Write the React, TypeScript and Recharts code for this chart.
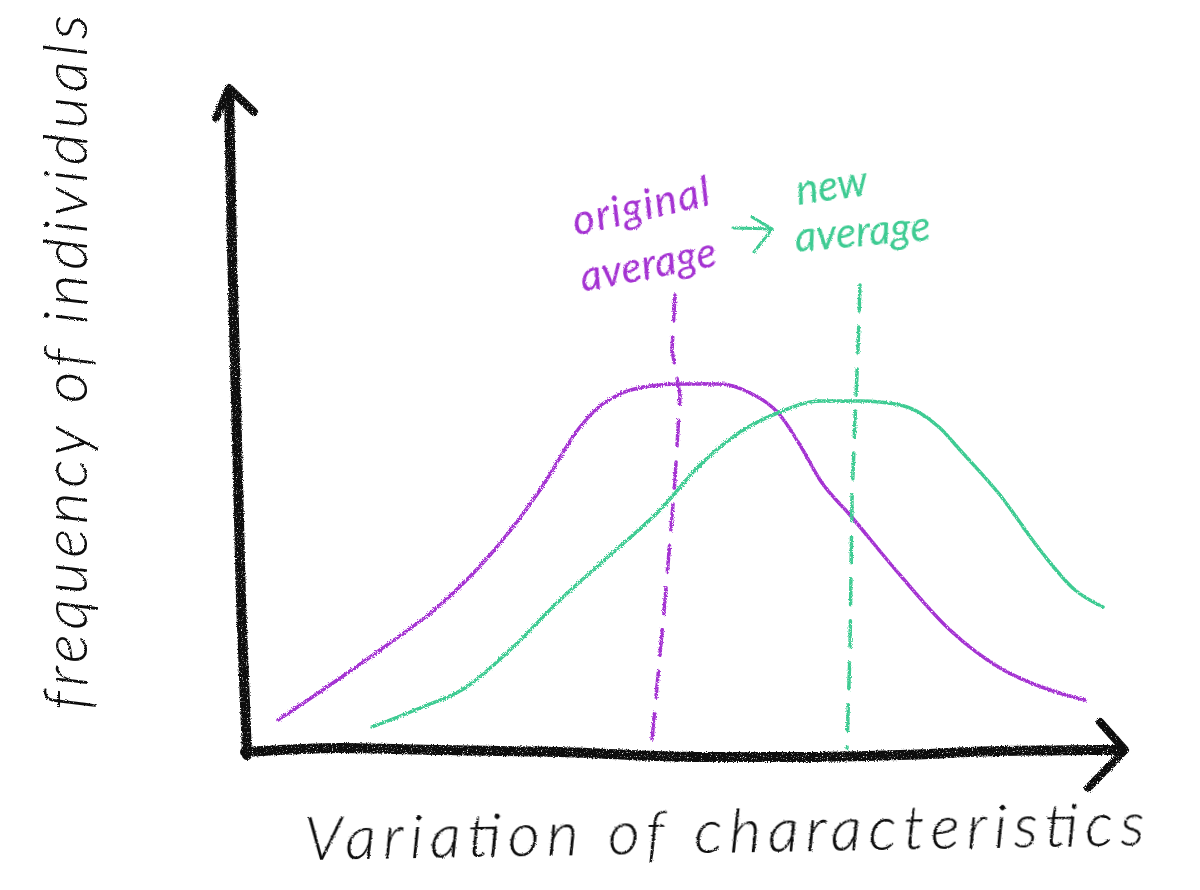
import React from "react";
import { ComposedChart, Line, XAxis, YAxis, ReferenceDot } from "recharts";

const INK = "#0c0c0c";
const PURPLE = "#a432d2";
const GREEN = "#3ecb92";

const purpleX = [7.8, 13, 18, 24, 29, 34, 38, 40, 42, 45, 48, 52, 55, 58, 60, 62, 65, 70, 75, 80, 85, 88.5];
const purpleY = [8, 11.5, 15, 19.5, 24.5, 31, 37.3, 39.4, 40.6, 41.4, 41.6, 41.6, 40.7, 38.5, 35.5, 32, 28.5, 22.5, 17, 13.2, 11, 10];
const greenX = [17.2, 22, 26.5, 31, 36, 41, 46, 50, 54, 58, 62, 66, 70, 72, 74, 76, 80, 84, 87.5, 90.3];
const greenY = [7.3, 9.2, 11.2, 15, 20, 24.5, 29, 33.5, 36.8, 38.8, 39.9, 39.9, 39.5, 38.7, 37.2, 35, 30.5, 25, 21, 19.3];
const purpleMeanX = [47.5, 47.2, 48, 47.5, 46.5, 45.2];
const purpleMeanY = [50.5, 45, 40.5, 32, 20, 6];
const greenMeanX = [66, 65.8, 65.5, 65.2, 65, 64.7];
const greenMeanY = [51.5, 45, 38, 30, 15, 5.2];
const xAxisX = [4.5, 14, 24, 36, 50, 60, 70, 80, 92.2];
const xAxisY = [4.8, 5.2, 5, 4.8, 4.3, 4.3, 4.5, 4.9, 5];
const xHeadX = [90, 92.5, 88.8];
const xHeadY = [7.8, 5, 1.2];
const yAxisX = [4.7, 4.1, 3.6, 3.2, 2.9];
const yAxisY = [4.5, 20, 40, 55, 70.8];
const yHeadX = [1.6, 2.9, 5.4];
const yHeadY = [68.2, 71.2, 68.8];
const shiftX = [53.3, 57.2];
const shiftY = [57.2, 57.1];
const shiftHeadX = [55.2, 57.2, 55.4];
const shiftHeadY = [58.3, 57.1, 54.8];

const zip = (xs: number[], ys: number[]) => xs.map((x, i) => ({ x, y: ys[i] }));

const FONT = "Lato, 'Open Sans', sans-serif";

const Hand = (props: any) => {
  const { text, size, color, angle, length, weight, viewBox } = props;
  const { x, y } = viewBox;
  return (
    <text
      x={x}
      y={y}
      fill={color}
      fontFamily={FONT}
      fontStyle="italic"
      fontWeight={weight}
      fontSize={size}
      textLength={length}
      lengthAdjust="spacing"
      filter="url(#chalkText)"
      transform={`rotate(${angle} ${x} ${y})`}
    >
      {text}
    </text>
  );
};

const note = (x: number, y: number, text: string, size: number, color: string, angle: number, length: number, weight: number) => (
  <ReferenceDot
    key={text + x}
    x={x}
    y={y}
    r={0}
    stroke="none"
    fill="none"
    ifOverflow="visible"
    label={(p: any) => <Hand {...p} text={text} size={size} color={color} angle={angle} length={length} weight={weight} />}
  />
);

const stroke = (key: string, xs: number[], ys: number[], color: string, width: number, extra: any = {}) => (
  <Line
    key={key}
    data={zip(xs, ys)}
    dataKey="y"
    name={key}
    type="linear"
    stroke={color}
    strokeWidth={width}
    strokeLinecap="round"
    strokeLinejoin="round"
    dot={false}
    activeDot={false}
    legendType="none"
    isAnimationActive={false}
    filter="url(#chalk)"
    {...extra}
  />
);

export default function App() {
  return (
    <div style={{ position: "absolute", left: 0, top: 0, width: 1200, height: 890, background: "#fff" }}>
      <ComposedChart width={1200} height={890} margin={{ left: 200, right: 50, top: 50, bottom: 90 }}>
        <defs>
          <filter id="chalk" filterUnits="userSpaceOnUse" x="0" y="0" width="1200" height="890">
            <feTurbulence type="fractalNoise" baseFrequency="0.8" numOctaves="2" seed="4" result="n" />
            <feDisplacementMap in="SourceGraphic" in2="n" scale="3.5" result="rough" />
            <feColorMatrix
              in="n"
              type="matrix"
              values="0 0 0 0 0  0 0 0 0 0  0 0 0 0 0  5 0 0 0 -0.9"
              result="grain"
            />
            <feComposite in="rough" in2="grain" operator="in" />
          </filter>
          <filter id="chalkText" filterUnits="userSpaceOnUse" x="0" y="0" width="1200" height="890">
            <feTurbulence type="fractalNoise" baseFrequency="0.8" numOctaves="2" seed="7" result="n" />
            <feDisplacementMap in="SourceGraphic" in2="n" scale="2.5" />
          </filter>
        </defs>
        <XAxis type="number" dataKey="x" domain={[0, 95]} hide />
        <YAxis type="number" dataKey="y" domain={[0, 75]} hide />
        {stroke("xAxis", xAxisX, xAxisY, INK, 10, { type: "monotone" })}
        {stroke("xHead", xHeadX, xHeadY, INK, 8)}
        {stroke("yAxis", yAxisX, yAxisY, INK, 10)}
        {stroke("yHead", yHeadX, yHeadY, INK, 8)}
        {stroke("purpleCurve", purpleX, purpleY, PURPLE, 3.5, { type: "monotone" })}
        {stroke("greenCurve", greenX, greenY, GREEN, 3.5, { type: "monotone" })}
        {stroke("purpleMean", purpleMeanX, purpleMeanY, PURPLE, 3.5, { strokeDasharray: "26 16" })}
        {stroke("greenMean", greenMeanX, greenMeanY, GREEN, 3.5, { strokeDasharray: "26 16" })}
        {stroke("shift", shiftX, shiftY, GREEN, 3)}
        {stroke("shiftHead", shiftHeadX, shiftHeadY, GREEN, 3)}
        {note(37.6, 56.4, "original", 42, PURPLE, -13, 140, 400)}
        {note(38.3, 50.8, "average", 42, PURPLE, -11, 138, 400)}
        {note(59.8, 59.5, "new", 42, GREEN, -8, 72, 400)}
        {note(59.6, 54.8, "average", 42, GREEN, -5, 136, 400)}
        {note(10.5, -6, "Variation of characteristics", 62, INK, -1, 840, 300)}
        {note(-11.3, 9, "frequency of individuals", 62, INK, -90, 695, 300)}
      </ComposedChart>
    </div>
  );
}
